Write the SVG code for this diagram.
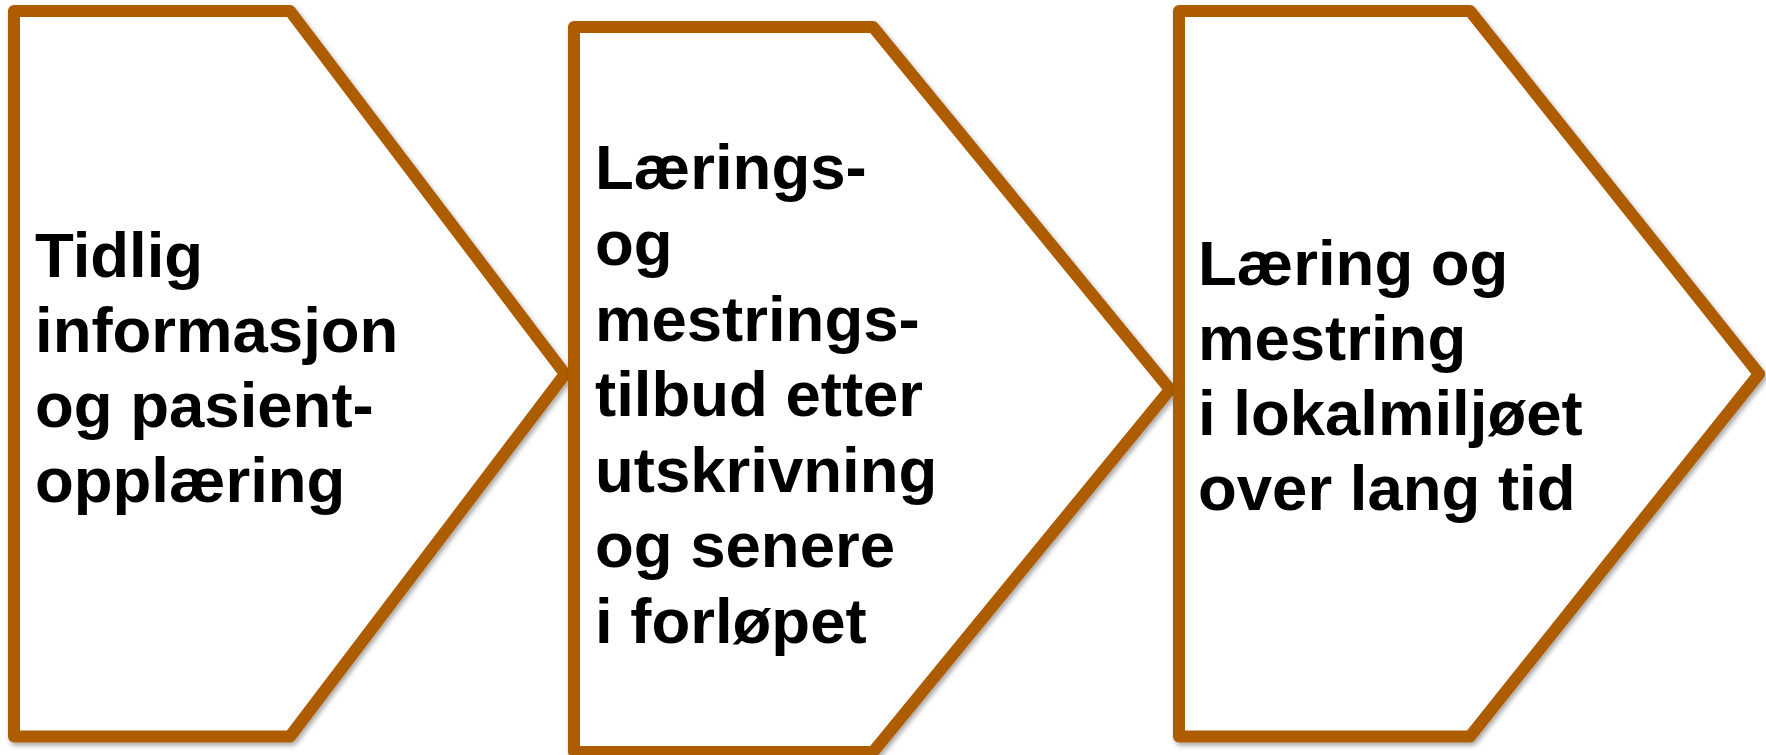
<svg xmlns="http://www.w3.org/2000/svg" width="1766" height="755" viewBox="0 0 1766 755">
<defs>
<filter id="sh" x="-5%" y="-5%" width="110%" height="110%">
<feDropShadow dx="2" dy="3" stdDeviation="2.5" flood-color="#000" flood-opacity="0.35"/>
</filter>
<style>
.chev{fill:#fff;stroke:#AD5C00;stroke-width:12;stroke-linejoin:round;filter:url(#sh)}
.lbl{font-family:"Liberation Sans",Arial,sans-serif;font-weight:bold;font-size:63.5px;fill:#000}
</style>
</defs>
<rect width="1766" height="755" fill="#fff"/>
<g id="connectors"></g>
<g id="node1">
<polygon class="chev" points="14,11 290,11 565,374 290,736.5 14,736.5"/>
<text class="lbl"><tspan x="35" y="277">Tidlig</tspan><tspan x="35" y="352">informasjon</tspan><tspan x="35" y="427">og pasient-</tspan><tspan x="35" y="502">opplæring</tspan></text>
</g>
<g id="node2">
<polygon class="chev" points="574,27 873,27 1170,389.5 873,752 574,752"/>
<text class="lbl"><tspan x="595" y="189">Lærings-</tspan><tspan x="595" y="265">og</tspan><tspan x="595" y="341">mestrings-</tspan><tspan x="595" y="416">tilbud etter</tspan><tspan x="595" y="492">utskrivning</tspan><tspan x="595" y="567">og senere</tspan><tspan x="595" y="643">i forløpet</tspan></text>
</g>
<g id="node3">
<polygon class="chev" points="1179,11 1470,11 1759,374 1470,736.5 1179,736.5"/>
<text class="lbl"><tspan x="1198" y="285">Læring og</tspan><tspan x="1198" y="360">mestring</tspan><tspan x="1198" y="435">i lokalmiljøet</tspan><tspan x="1198" y="510">over lang tid</tspan></text>
</g>
</svg>
